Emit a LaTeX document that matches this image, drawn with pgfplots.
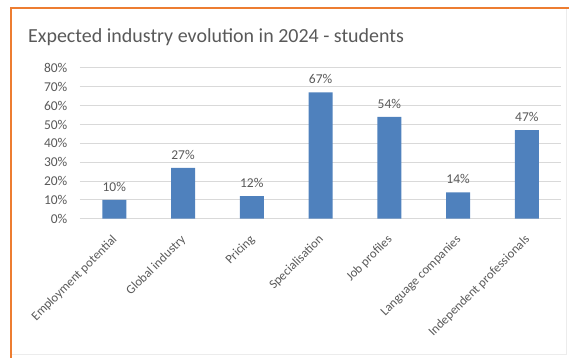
\documentclass[border=0pt]{standalone}
\usepackage{pgfplots}
\pgfplotsset{compat=1.18}
\usepackage{fontspec}
\setmainfont{Carlito}
\definecolor{barc}{RGB}{79,129,189}
\definecolor{txt}{RGB}{89,89,89}
\definecolor{gridc}{RGB}{217,217,217}
\definecolor{framec}{RGB}{237,125,49}
\begin{document}
\begin{tikzpicture}[x=1pt,y=1pt]
\begin{axis}[
  at={(80pt,141pt)}, anchor=south west,
  scale only axis, width=482pt, height=151pt,
  ybar, bar width=24pt,
  xmin=-0.5, xmax=6.5, ymin=0, ymax=80,
  xtick=data,
  xticklabels={Employment potential,Global industry,Pricing,Specialisation,Job profiles,Language companies,Independent professionals},
  ytick={0,10,...,80},
  yticklabel={\pgfmathprintnumber{\tick}\%},
  ymajorgrids, grid style={gridc, line width=0.9pt},
  axis line style={draw=none},
  major tick length=0pt,
  tick label style={font=\fontsize{13.5}{15}\selectfont, text=txt},
  yticklabel style={xshift=-9pt},
  xticklabel style={font=\fontsize{12.7}{14}\selectfont, xshift=-3pt, yshift=-15pt, rotate=45, anchor=north east, inner sep=0pt},
  /pgf/number format/assume math mode=true,
  nodes near coords={\pgfmathprintnumber{\pgfplotspointmeta}\%},
  every node near coord/.append style={font=\fontsize{13.5}{15}\selectfont, text=txt, yshift=5pt},
  clip=false,
]
\addplot[fill=barc, draw=none] coordinates {(0,10) (1,27) (2,12) (3,67) (4,54) (5,14) (6,47)};
\end{axis}
\draw[gridc!50, line width=0.8pt] (567.5,352) -- (567.5,5) -- (11,5);
\draw[framec, line width=1.5pt] (11,2) -- (11,352) -- (570,352);
\node[anchor=west, font=\fontsize{20}{22}\selectfont, text=txt, inner sep=0pt] at (28,323) {Expected industry evolution in 2024 - students};
\path (0,0) rectangle (570,360);
\end{tikzpicture}
\end{document}
